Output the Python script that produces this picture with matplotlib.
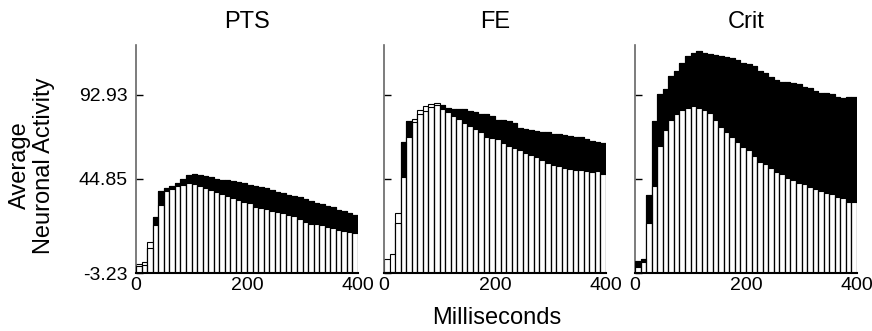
import numpy as np
import matplotlib
matplotlib.use('Agg')
import matplotlib.pyplot as plt

plt.rcParams['font.family'] = ['Liberation Sans', 'DejaVu Sans']

# 40 bins of 10 ms, 0..400 ms
bin_edges = np.arange(0, 400, 10)

titles = ['PTS', 'FE', 'Crit']

# black top (total) and white top, in activity units
pts_total = [-4.95, -4.2, 5.2, 23.3, 38.0, 39.7, 40.8, 42.4, 44.7, 47.1,
             47.5, 47.1, 46.4, 46.2, 45.0, 44.3, 44.1, 43.7, 43.0, 42.4,
             41.4, 41.0, 40.4, 39.5, 38.55, 37.6, 36.7, 35.7, 35.3, 34.4,
             33.4, 32.4, 31.3, 30.5, 29.4, 28.65, 27.1, 26.5, 25.6, 24.2]
pts_white = [-3.8, -2.65, 8.95, 18.5, 30.0, 38.2, 39.1, 40.8, 41.4, 42.7,
             41.8, 40.8, 39.5, 38.55, 37.6, 36.1, 35.3, 33.8, 32.8, 31.5,
             30.9, 29.0, 28.25, 27.5, 26.7, 26.1, 25.2, 24.2, 23.7, 22.0,
             20.4, 19.1, 18.9, 18.5, 17.2, 16.8, 15.7, 15.1, 14.7, 14.1]

fe_total = [-8.2, -8.2, 19.5, 66.2, 78.2, 77.5, 82.1, 83.9, 86.2, 87.2,
            87.2, 85.3, 84.75, 84.75, 84.75, 83.9, 83.0, 82.2, 81.9, 80.9,
            78.6, 78.6, 78.2, 76.7, 73.9, 73.3, 72.9, 72.3, 71.9, 71.9,
            70.4, 70.4, 70.0, 69.6, 69.1, 68.7, 67.6, 66.8, 66.2, 65.6]
fe_white = [-1.1, 1.9, 25.2, 45.8, 68.7, 79.0, 84.3, 86.6, 87.8, 88.2,
            84.9, 83.4, 80.9, 79.0, 76.7, 75.2, 73.3, 71.9, 69.1, 68.1,
            67.6, 65.6, 63.9, 62.4, 61.45, 59.9, 58.6, 57.3, 55.7, 53.8,
            52.9, 52.3, 51.0, 50.4, 50.0, 50.0, 49.6, 49.0, 49.6, 47.5]

crit_total = [-1.9, -1.1, 35.7, 78.05, 93.3, 96.2, 103.8, 106.7, 111.1, 115.4,
              116.8, 118.1, 116.8, 116.2, 115.8, 115.25, 114.5, 113.9, 112.95, 111.1,
              110.5, 109.5, 106.8, 105.35, 103.1, 101.5, 100.55, 100.2, 99.6, 99.25,
              97.7, 96.8, 95.4, 94.25, 94.25, 93.3, 91.95, 91.4, 91.95, 91.95]
crit_white = [-5.5, -2.8, 19.8, 40.8, 63.7, 72.9, 78.6, 82.1, 84.3, 85.7,
              86.8, 85.3, 84.3, 82.8, 78.6, 74.4, 71.6, 69.1, 66.2, 63.3,
              61.45, 58.0, 54.75, 53.25, 50.95, 49.0, 47.7, 45.25, 44.3, 42.7,
              42.0, 40.4, 39.1, 38.15, 36.7, 36.25, 34.4, 33.8, 31.5, 31.5]

totals = [pts_total, fe_total, crit_total]
whites = [pts_white, fe_white, crit_white]

y_min, y_max = -8.96, 121.5
ytick_vals = [y_min, 44.85, 92.93]
ytick_labels = ['-3.23', '44.85', '92.93']
xticks = [0, 200, 400]

fig = plt.figure(figsize=(8.72, 3.31), dpi=100)
lefts = [136 / 872, 384 / 872, 635 / 872]
w = 222 / 872
b = 58 / 331
h = 228 / 331

for i in range(3):
    ax = fig.add_axes([lefts[i], b, w, h])
    tot = np.array(totals[i])
    wh = np.array(whites[i])
    ax.bar(bin_edges, tot - y_min, width=10, bottom=y_min, align='edge',
           color='black', edgecolor='black', linewidth=0.8, zorder=1)
    ax.bar(bin_edges, wh - y_min, width=10, bottom=y_min, align='edge',
           color='white', edgecolor='black', linewidth=0.8, zorder=2)
    ax.bar(bin_edges, tot - y_min, width=10, bottom=y_min, align='edge',
           fill=False, edgecolor='black', linewidth=0.8, zorder=3)
    ax.set_xlim(0, 400)
    ax.set_ylim(y_min, y_max)
    ax.set_xticks(xticks)
    ax.set_xticklabels([str(t) for t in xticks], fontsize=14)
    ax.tick_params(axis='x', length=0, pad=3)
    ax.set_yticks(ytick_vals)
    if i == 0:
        ax.set_yticklabels(ytick_labels, fontsize=14)
    else:
        ax.set_yticklabels([])
    ax.tick_params(axis='y', direction='in', length=5, width=1, pad=6)
    for s in ['top', 'right']:
        ax.spines[s].set_visible(False)
    ax.spines['left'].set_color('#666666')
    ax.spines['left'].set_linewidth(1.2)
    ax.spines['bottom'].set_linewidth(1.5)
    ax.text(0.5, 1 + 23 / 228, titles[i], transform=ax.transAxes,
            ha='center', va='center', fontsize=17)

fig.text(32 / 872, 0.50, 'Average\nNeuronal Activity', rotation=90,
         ha='center', va='center', fontsize=17, linespacing=1.1)
fig.text(497 / 872, 13 / 331, 'Milliseconds', ha='center', va='center',
         fontsize=17)

fig.savefig('out.png', dpi=100)
